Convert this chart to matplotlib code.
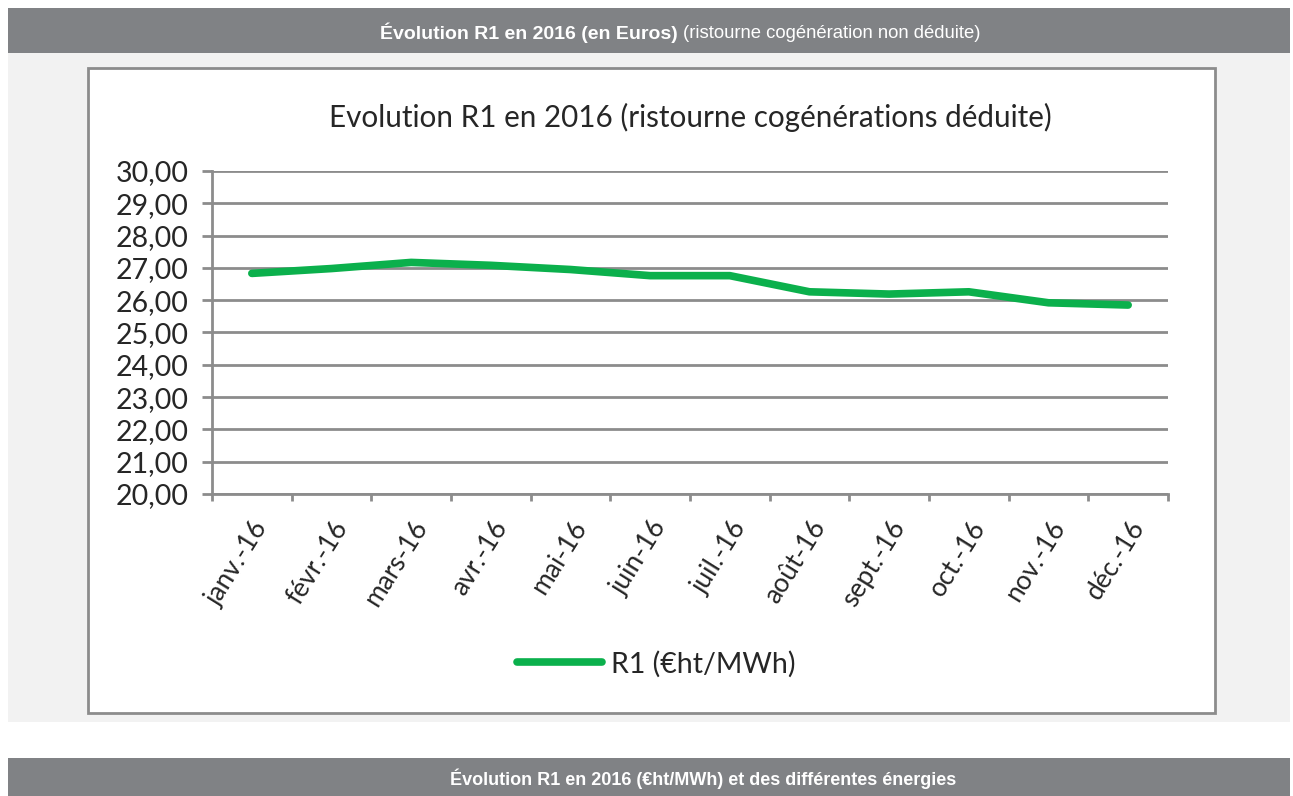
import matplotlib.pyplot as plt
from matplotlib.patches import Rectangle

mois = ['janv.-16', 'févr.-16', 'mars-16', 'avr.-16', 'mai-16', 'juin-16',
        'juil.-16', 'août-16', 'sept.-16', 'oct.-16', 'nov.-16', 'déc.-16']
r1 = [26.83, 26.98, 27.17, 27.08, 26.95, 26.76,
      26.76, 26.26, 26.19, 26.26, 25.92, 25.85]
y_ticks = [20, 21, 22, 23, 24, 25, 26, 27, 28, 29, 30]

W, H = 1293, 796
GRIS = '#808285'
VERT = '#0bb04c'


def fx(px):
    return px / W


def fy(py):
    return 1 - py / H


fig = plt.figure(figsize=(W / 100, H / 100), dpi=100)
fig.patch.set_facecolor('white')

# bandeaux gris et cadre (sous les axes)
fond = [
    ((8, 53), 1282, 45, GRIS, 'none'),
    ((8, 722), 1282, 669, '#f2f2f2', 'none'),
    ((8, 796), 1282, 38, GRIS, 'none'),
    ((88, 713), 1127, 645, 'white', '#8c8c8c'),
]
for (px, py), w, h, fc, ec in fond:
    fig.patches.append(Rectangle((fx(px), fy(py)), w / W, h / H, transform=fig.transFigure,
                                 facecolor=fc, edgecolor=ec, linewidth=2, zorder=-5))

fig.text(fx(678), fy(33), 'Évolution R1 en 2016 (en Euros)', ha='right', va='center',
         color='white', fontsize=14, fontweight='bold', family='Liberation Sans')
fig.text(fx(683), fy(34), '(ristourne cogénération non déduite)', ha='left', va='center',
         color='white', fontsize=13.3, family='Liberation Sans')
fig.text(fx(703), fy(779), 'Évolution R1 en 2016 (€ht/MWh) et des différentes énergies',
         ha='center', va='center', color='white', fontsize=13, fontweight='bold',
         family='Liberation Sans')

fig.text(fx(690), fy(117), 'Evolution R1 en 2016 (ristourne cogénérations déduite)',
         ha='center', va='center', color='#262626', fontsize=21.3, family='Lato')

ax = fig.add_axes([fx(212), fy(494), fx(1168 - 212), (494 - 171) / H])
ax.patch.set_alpha(0)
x = list(range(len(mois)))
ax.plot(x, r1, color=VERT, linewidth=5.5, solid_capstyle='round',
        solid_joinstyle='round', label='R1 (€ht/MWh)', zorder=3)

ax.set_xlim(-0.5, len(mois) - 0.5)
ax.set_ylim(20, 30)
ax.set_yticks(y_ticks)
ax.set_yticklabels([f'{v:.2f}'.replace('.', ',') for v in y_ticks],
                   fontsize=20.5, family='Lato', color='#262626')
ax.yaxis.grid(True, color='#8c8c8c', linewidth=2)
ax.set_axisbelow(True)

ax.set_xticks(x)
ax.set_xticklabels(mois, rotation=58, ha='right', rotation_mode='anchor',
                   fontsize=19, family='Lato', color='#262626')
ax.set_xticks([i - 0.5 for i in range(len(mois) + 1)], minor=True)
ax.tick_params(axis='x', which='major', length=0, pad=16)
ax.tick_params(axis='x', which='minor', length=5, width=2, color='#8c8c8c')
ax.tick_params(axis='y', length=7, width=2, color='#8c8c8c', pad=10)

for s in ['top', 'right']:
    ax.spines[s].set_visible(False)
for s in ['left', 'bottom']:
    ax.spines[s].set_color('#8c8c8c')
    ax.spines[s].set_linewidth(2)

ax.legend(loc='center', bbox_to_anchor=(fx(656), fy(664)), bbox_transform=fig.transFigure,
          frameon=False, handlelength=3.0, handletextpad=0.3,
          prop={'family': 'Lato', 'size': 20.5}, labelcolor='#262626')

fig.savefig('out.png', dpi=100)
